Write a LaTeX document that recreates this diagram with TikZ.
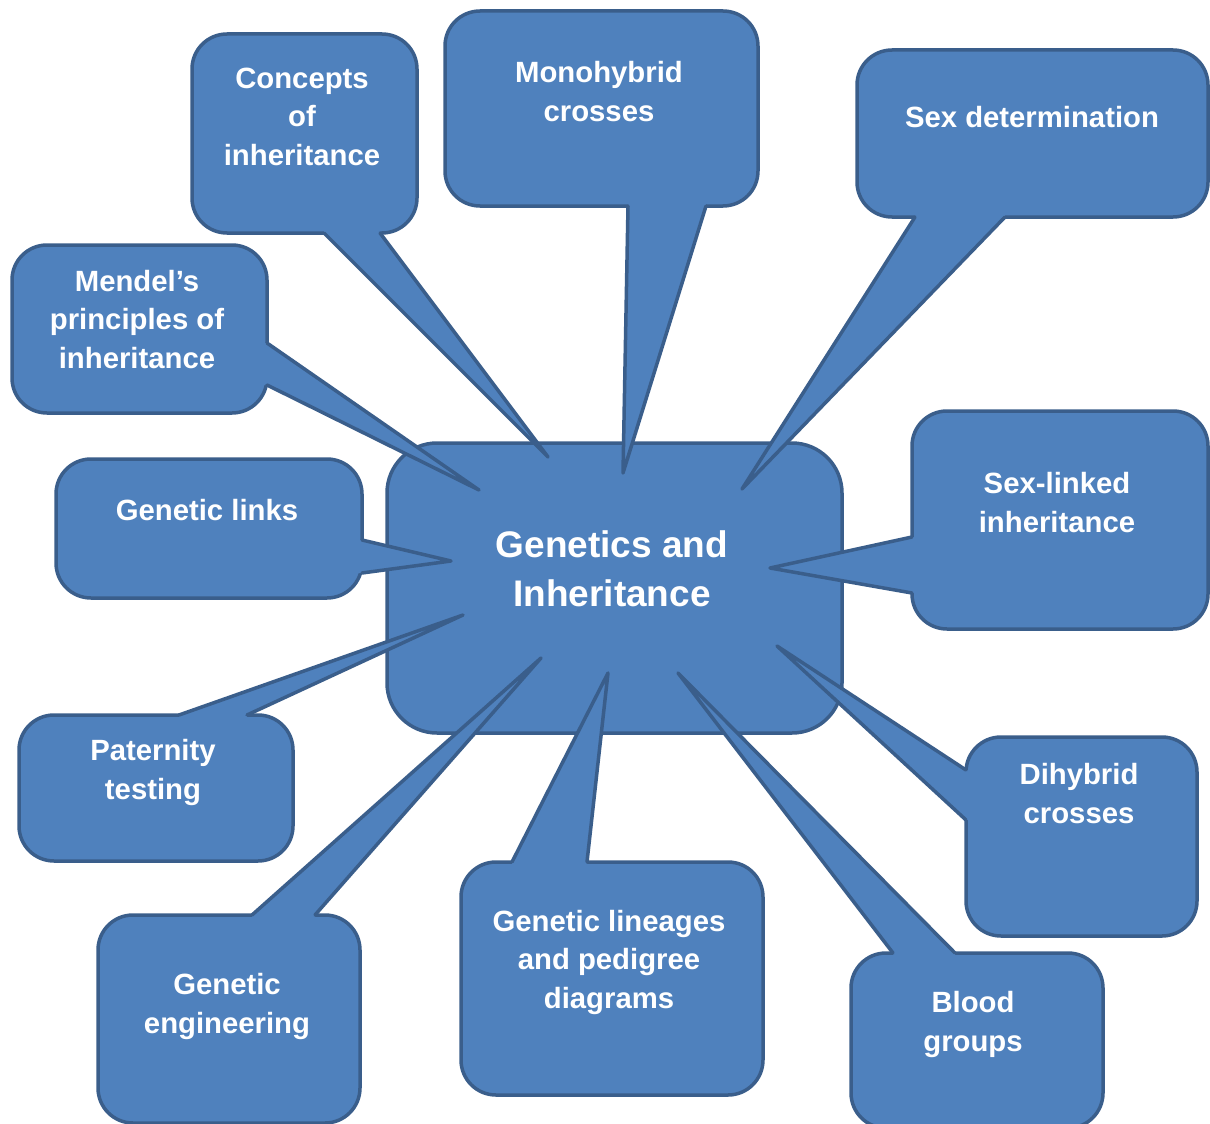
\documentclass[tikz,border=0pt]{standalone}
\usepackage{fontspec}
\setmainfont{Liberation Sans}
\definecolor{cfill}{HTML}{4F81BD}
\definecolor{cline}{HTML}{3A5E8B}
\tikzset{
  cbox/.style={rectangle, draw=cline, fill=cfill, line width=3.5pt, rounded corners=35pt, inner sep=0pt, outer sep=0pt},
  hub/.style={cbox, rounded corners=50pt},
  lbl/.style={text=white, font=\bfseries\fontsize{29.3}{38.5}\selectfont, align=center, anchor=base, inner sep=0pt},
  hublbl/.style={lbl, font=\bfseries\fontsize{37}{49}\selectfont},
  wfill/.style={fill=cfill},
  wline/.style={draw=cline, line width=3.5pt, line join=round, line cap=round},
}
\begin{document}
\begin{tikzpicture}[x=1pt,y=-1pt]
\useasboundingbox (0,0) rectangle (1210,1124);

% central box
\node[hub, minimum width=455pt, minimum height=290pt] (hub) at (614.5,588) {};
\node[hublbl] (hubt) at (612,606) {Genetics and\\Inheritance};

% tips
\coordinate (tcon) at (548,457);
\coordinate (tmono) at (623,473);
\coordinate (tsex) at (742,489);
\coordinate (tmen) at (479,490);
\coordinate (tlink) at (451,561);
\coordinate (tsl) at (770,568);
\coordinate (tdi) at (777,646);
\coordinate (tpat) at (463,615);
\coordinate (teng) at (541,658);
\coordinate (tlin) at (608,673);
\coordinate (tblood) at (678,673);

% Concepts of inheritance
\node[cbox, minimum width=225pt, minimum height=199pt] (con) at (304.5,133.5) {};
\fill[wfill] (324,233) -- (tcon) -- (380,233) -- (380,226) -- (324,226) -- cycle;
\draw[wline] (324,233) -- (tcon) -- (380,233);
\node[lbl] (cont) at (302,165) {Concepts\\of\\inheritance};

% Monohybrid crosses
\node[cbox, minimum width=313pt, minimum height=195pt] (mono) at (601.5,108.5) {};
\fill[wfill] (628,206) -- (tmono) -- (706,206) -- (706,199) -- (628,199) -- cycle;
\draw[wline] (628,206) -- (tmono) -- (706,206);
\node[lbl] (monot) at (599,121) {Monohybrid\\crosses};

% Sex determination
\node[cbox, minimum width=351pt, minimum height=167pt] (sex) at (1032.5,133.5) {};
\fill[wfill] (915,217) -- (tsex) -- (1005,217) -- (1005,210) -- (915,210) -- cycle;
\draw[wline] (915,217) -- (tsex) -- (1005,217);
\node[lbl] (sext) at (1032,127) {Sex determination};

% Mendel's principles
\node[cbox, minimum width=255pt, minimum height=168pt] (men) at (139.5,329) {};
\fill[wfill] (267,343) -- (tmen) -- (267,385) -- (260,385) -- (260,343) -- cycle;
\draw[wline] (267,343) -- (tmen) -- (267,385);
\node[lbl] (ment) at (137,368) {Mendel’s\\principles of\\inheritance};

% Genetic links
\node[cbox, minimum width=306pt, minimum height=139pt] (link) at (209,528.5) {};
\fill[wfill] (362,540) -- (tlink) -- (362,573) -- (355,573) -- (355,540) -- cycle;
\draw[wline] (362,540) -- (tlink) -- (362,573);
\node[lbl] (linkt) at (207,520) {Genetic links};

% Sex-linked inheritance
\node[cbox, minimum width=296pt, minimum height=218pt] (sl) at (1060,520) {};
\fill[wfill] (912,537) -- (tsl) -- (912,593) -- (919,593) -- (919,537) -- cycle;
\draw[wline] (912,537) -- (tsl) -- (912,593);
\node[lbl] (slt) at (1057,532) {Sex-linked\\inheritance};

% Dihybrid crosses
\node[cbox, minimum width=231pt, minimum height=199pt] (di) at (1081.5,836.5) {};
\fill[wfill] (966,770) -- (tdi) -- (966,820) -- (973,820) -- (973,770) -- cycle;
\draw[wline] (966,770) -- (tdi) -- (966,820);
\node[lbl] (dit) at (1079,823) {Dihybrid\\crosses};

% Paternity testing
\node[cbox, minimum width=274pt, minimum height=146pt] (pat) at (156,788) {};
\fill[wfill] (179,715) -- (tpat) -- (247,715) -- (247,722) -- (179,722) -- cycle;
\draw[wline] (179,715) -- (tpat) -- (247,715);
\node[lbl] (patt) at (153,799) {Paternity\\testing};

% Genetic engineering
\node[cbox, minimum width=262pt, minimum height=208pt] (eng) at (229,1019) {};
\fill[wfill] (252,915) -- (teng) -- (315,915) -- (315,922) -- (252,922) -- cycle;
\draw[wline] (252,915) -- (teng) -- (315,915);
\node[lbl] (engt) at (227,1033) {Genetic\\engineering};

% Genetic lineages
\node[cbox, minimum width=302pt, minimum height=233pt] (lin) at (612,978.5) {};
\fill[wfill] (512,862) -- (tlin) -- (587,862) -- (587,869) -- (512,869) -- cycle;
\draw[wline] (512,862) -- (tlin) -- (587,862);
\node[lbl] (lint) at (609,1008) {Genetic lineages\\and pedigree\\diagrams};

% Blood groups
\node[cbox, minimum width=252pt, minimum height=175pt] (blood) at (977,1040.5) {};
\fill[wfill] (893,953) -- (tblood) -- (955,953) -- (955,960) -- (893,960) -- cycle;
\draw[wline] (893,953) -- (tblood) -- (955,953);
\node[lbl] (bloodt) at (973,1051) {Blood\\groups};
\end{tikzpicture}
\end{document}
